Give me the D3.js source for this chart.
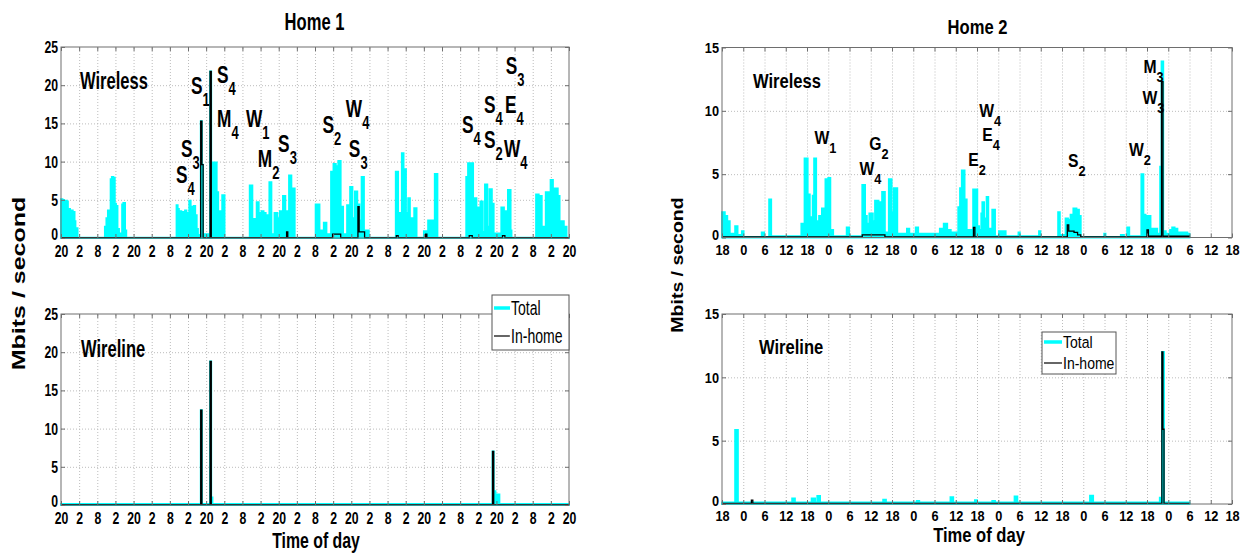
<!DOCTYPE html>
<html><head><meta charset="utf-8">
<script src="https://cdn.jsdelivr.net/npm/d3@7"></script>
<style>
body{margin:0;background:#fff}
svg{display:block}
text{font-family:"Liberation Sans",Arial,Helvetica,sans-serif;font-weight:bold;fill:#000}
</style>
</head><body>
<svg id="c" width="1244" height="554"></svg>
<script>
// ---------------- DATA ----------------
// Home 1: hours since start (7 days), tick labels every 6 h
const h1TickHours = d3.range(0, 169, 6);
const h1TickLabels = ["20","2","8","2","20","2","8","2","20","2","8","2","20","2","8","2","20","2","8","2","20","2","8","2","20","2","8","2","20"];
const h1YTicks = [0,5,10,15,20,25];
// [hour, Mbit/s] step series
const h1WirelessTotal = [[0,5.1],[0.5,5.0],[1.0,2.4],[1.3,4.9],[1.9,4.8],[2.3,2.0],[2.5,3.8],[3.0,2.6],[3.4,3.6],[3.9,3.4],[4.5,2.2],[4.8,1.3],[5.5,0.05],
[14.5,1.5],[15.0,2.6],[15.5,3.6],[16.0,3.4],[16.4,7.7],[16.8,8.0],[17.3,7.9],[17.8,4.5],[18.2,4.2],[18.7,1.2],[19.2,0.6],[20.2,4.4],[20.6,4.6],[21.2,1.0],[21.6,0.05],
[38.2,4.3],[38.6,3.8],[39.0,3.0],[39.4,3.5],[39.8,2.6],[40.2,3.4],[40.6,2.5],[41.0,3.6],[41.5,3.3],[42.0,2.6],[42.4,4.9],[42.9,4.1],[43.4,3.6],[43.9,4.2],[44.4,3.0],[44.9,1.2],[45.3,0.4],[46.2,15.3],[46.6,9.6],[47.0,0.5],[49.3,21.8],[49.7,0.6],[50.0,9.9],[50.5,3.5],[50.9,9.9],[51.5,6.0],[52.0,0.6],[52.4,3.5],[52.9,0.5],[53.3,5.6],[54.1,0.05],
[62.4,6.9],[63.3,2.5],[64.7,4.7],[65.4,3.3],[66.3,3.5],[67.0,3.3],[67.7,3.0],[68.3,2.8],[68.9,7.3],[69.6,0.5],[70.6,3.3],[71.6,2.6],[72.4,3.5],[73.4,5.5],[74.2,3.5],[75.4,8.2],[76.2,6.5],[77.3,0.05],
[84.2,4.4],[85.5,1.0],[86.9,2.0],[87.8,0.5],[89.3,8.7],[90.1,9.7],[90.9,9.4],[91.7,10.1],[92.5,4.1],[93.3,0.5],[94.6,4.3],[95.6,6.7],[96.4,2.6],[97.2,6.1],[98.0,4.4],[98.7,2.3],[99.4,8.0],[100.2,1.0],[101.8,0.05],
[110.7,8.7],[111.5,1.5],[112.1,3.3],[112.7,11.1],[113.3,9.0],[114.1,3.3],[114.8,5.2],[115.4,1.5],[116.0,2.6],[116.8,3.9],[117.6,0.05],
[120.0,0.9],[121.4,2.3],[123.0,2.1],[123.6,8.4],[124.5,0.05],
[134.0,8.0],[134.6,9.8],[136.3,4.0],[136.8,5.2],[137.4,4.0],[138.2,2.0],[138.7,4.8],[139.5,0.8],[140.2,7.0],[141.0,1.5],[141.7,6.4],[142.5,4.5],[143.1,0.6],[145.6,4.0],[146.5,2.5],[147.1,3.5],[147.8,6.3],[148.7,1.0],[149.0,0.05],
[157.1,5.7],[158.0,1.5],[158.5,5.5],[159.0,0.8],[159.4,1.5],[160.3,6.0],[161.3,5.5],[161.9,7.6],[162.7,2.5],[163.3,6.5],[164.3,5.5],[164.9,2.0],[165.5,2.2],[166.3,1.5],[167.2,0.05],[168,0.05]];
const h1WirelessInHome = [[0,0.05],[46.2,15.3],[46.6,9.6],[47.0,0.05],[49.3,21.8],[49.7,0.05],[74.6,0.8],[75.0,0.05],[89.8,0.5],[92.5,0.05],[98.2,4.1],[98.6,0.8],[100.4,0.05],[110.9,0.3],[111.5,0.05],[120.6,0.5],[121.0,0.05],[135.0,0.3],[136.0,0.05],[146.0,0.3],[146.8,0.05],[168,0.05]];
const h1WirelineTotal = [[0,0.15],[46.2,12.4],[46.6,0.15],[49.3,18.8],[49.7,1.0],[50.1,0.15],[142.7,7.0],[143.1,1.8],[143.7,1.4],[145.0,0.15],[168,0.15]];
const h1WirelineInHome = [[0,0.05],[46.2,12.4],[46.6,0.05],[49.3,18.8],[49.7,0.05],[142.7,7.0],[143.1,0.05],[168,0.05]];
// annotations: [letter, subscript, hour, Mbit/s]
const h1Annotations = [["S","4",38.0,7.2],["S","3",39.7,10.6],["S","1",43.0,18.85],["S","4",51.6,20.3],["M","4",51.6,14.5],["W","1",61.2,14.5],["M","2",65.1,9.3],["S","3",71.8,11.3],["S","2",86.5,13.7],["W","4",94.2,15.8],["S","3",95.2,10.6],["S","4",132.6,13.7],["S","4",139.9,16.4],["E","4",146.8,16.4],["S","2",139.9,11.8],["W","4",146.5,10.6],["S","3",147.1,21.5]];

// Home 2: hours since start (6 days axis), tick labels every 6 h
const h2TickHours = d3.range(0, 145, 6);
const h2TickLabels = ["18","0","6","12","18","0","6","12","18","0","6","12","18","0","6","12","18","0","6","12","18","0","6","12","18"];
const h2YTicks = [0,5,10,15];
const h2WirelessTotal = [[0,2.0],[0.8,1.7],[1.5,1.3],[2.2,0.3],[3.7,0.9],[4.4,0.2],[5.6,0.5],[6.1,0.05],[11.2,0.4],[11.9,0.05],[13.3,3.0],[13.9,0.1],[22.4,1.1],[23.3,6.25],[24.2,3.4],[24.8,1.6],[25.6,3.3],[26.0,6.25],[26.6,1.3],[27.4,1.7],[28.2,2.3],[29.2,4.6],[30.0,4.7],[30.6,0.6],[31.4,0.1],[35.2,0.8],[35.9,0.1],[39.6,4.15],[40.4,1.7],[40.9,1.1],[41.6,1.9],[42.6,1.3],[43.2,2.9],[44.2,2.8],[45.2,3.6],[46.0,0.4],[47.1,4.6],[47.9,2.0],[48.5,3.9],[49.5,0.3],[52.2,0.7],[52.9,0.3],[54.7,0.8],[55.4,0.3],[61.5,0.7],[62.6,1.1],[63.6,0.6],[64.6,0.4],[66.7,2.4],[67.2,3.9],[67.7,5.3],[68.5,3.0],[69.1,0.6],[70.9,3.8],[72.1,0.9],[72.6,0.6],[73.2,1.9],[73.5,2.8],[74.0,1.5],[74.7,3.2],[75.2,0.7],[75.9,0.3],[76.3,2.2],[77.1,0.1],[78.2,0.5],[80.1,0.1],[83.7,0.4],[84.1,0.1],[89.5,0.5],[89.9,0.05],[94.9,2.0],[95.4,0.2],[97.0,1.5],[97.7,1.4],[98.4,1.8],[99.2,2.3],[100.1,2.2],[100.8,1.7],[101.3,0.05],[107.9,0.3],[108.3,0.05],[112.6,0.2],[113.5,0.05],[114.4,0.8],[115.0,0.1],[118.4,5.0],[119.0,1.8],[119.6,0.7],[120.1,1.7],[121.0,0.7],[122.9,0.3],[123.7,5.6],[124.1,13.9],[124.6,0.5],[125.3,0.3],[126.5,0.6],[127.1,0.8],[127.8,0.7],[128.6,0.4],[131.4,0.3],[132,0.3]];
const h2WirelessInHome = [[0,0.05],[39.6,0.2],[46.0,0.05],[71.0,0.8],[71.4,0.05],[97.5,1.0],[97.9,0.5],[99.4,0.4],[100.4,0.2],[101.3,0.05],[120.0,0.6],[120.4,0.1],[124.1,12.3],[124.5,0.1],[132,0.05]];
const h2WirelineTotal = [[0,0.12],[3.7,5.85],[4.5,0.12],[19.8,0.45],[20.6,0.12],[25.3,0.45],[26.3,0.12],[26.9,0.63],[27.7,0.12],[45.5,0.35],[46.3,0.12],[55.0,0.25],[55.7,0.12],[64.5,0.55],[65.3,0.12],[71.4,0.3],[72.0,0.12],[76.3,0.25],[77.1,0.12],[82.6,0.6],[83.4,0.12],[103.9,0.65],[104.8,0.12],[123.6,0.5],[124.2,12.0],[124.8,0.12],[132,0.12]];
const h2WirelineInHome = [[0,0.05],[8.3,0.3],[8.7,0.05],[124.2,12.0],[124.5,5.9],[124.8,0.05],[132,0.05]];
const h2Annotations = [["W","1",26.1,7.4],["G","2",41.6,6.9],["W","4",38.8,4.9],["W","4",72.6,9.5],["E","4",73.5,7.6],["E","2",69.5,5.65],["S","2",97.7,5.6],["W","2",114.9,6.4],["M","3",119.0,13.0],["W","3",118.7,10.55]];

const legendLabels = ["Total","In-home"];

// ---------------- DRAW ----------------
const svg = d3.select("#c");
const CYAN = "#00ffff", FRAME = "#6e6e6e", GRID = "#bcbcbc";

function txt(g, s, x, y, size, sx, anchor) {
  return g.append("text").attr("transform", `translate(${x},${y}) scale(${sx},1)`)
    .attr("text-anchor", anchor || "start").style("font-size", size + "px").text(s);
}

function panel(o) {
  const g = svg.append("g");
  const x = d3.scaleLinear().domain(o.xDomain).range([o.left, o.right]);
  const y = d3.scaleLinear().domain([0, o.yMax]).range([o.bottom, o.top]);
  const H = o.bottom - o.top, W = o.right - o.left;
  // grid
  g.append("g").attr("transform", `translate(0,${o.bottom})`)
    .call(d3.axisBottom(x).tickValues(o.tickHours.slice(1, -1)).tickSize(-H).tickFormat(""))
    .call(s => { s.select(".domain").remove();
      s.selectAll("line").attr("stroke", GRID).attr("stroke-dasharray", "1,2"); });
  g.append("g").attr("transform", `translate(${o.left},0)`)
    .call(d3.axisLeft(y).tickValues(o.yTicks.slice(1, -1)).tickSize(-W).tickFormat(""))
    .call(s => { s.select(".domain").remove();
      s.selectAll("line").attr("stroke", GRID).attr("stroke-dasharray", "1,2"); });
  // total (cyan)
  const area = d3.area().x(d => x(d[0])).y0(y(0)).y1(d => y(d[1])).curve(d3.curveStepAfter);
  g.append("path").datum(o.total).attr("d", area)
    .attr("fill", CYAN).attr("stroke", CYAN).attr("stroke-width", 1.8);
  // in-home (black)
  const line = d3.line().x(d => x(d[0])).y(d => y(d[1])).curve(d3.curveStepAfter);
  g.append("path").datum(o.inhome).attr("d", line)
    .attr("fill", "none").attr("stroke", "#000").attr("stroke-width", 1.3);
  // frame
  g.append("rect").attr("x", o.left).attr("y", o.top).attr("width", W).attr("height", H)
    .attr("fill", "none").attr("stroke", FRAME).attr("stroke-width", 1);
  // axes
  const xa = g.append("g").attr("transform", `translate(0,${o.bottom})`)
    .call(d3.axisBottom(x).tickValues(o.tickHours).tickFormat((d, i) => o.tickLabels[i])
      .tickSizeInner(-4).tickSizeOuter(0).tickPadding(o.xPad));
  xa.select(".domain").remove();
  xa.selectAll("line").attr("stroke", FRAME);
  xa.selectAll("text").attr("transform", `scale(${o.sx},1)`).style("font-size", o.tickFont + "px")
    .attr("fill", "#000");
  const xt = g.append("g").attr("transform", `translate(0,${o.top})`)
    .call(d3.axisTop(x).tickValues(o.tickHours).tickFormat("").tickSizeInner(-4).tickSizeOuter(0));
  xt.select(".domain").remove(); xt.selectAll("line").attr("stroke", FRAME);
  const ya = g.append("g").attr("transform", `translate(${o.left},0)`)
    .call(d3.axisLeft(y).tickValues(o.yTicks).tickSizeInner(-4).tickSizeOuter(0).tickPadding(3 / o.sx));
  ya.select(".domain").remove();
  ya.selectAll("line").attr("stroke", FRAME);
  ya.selectAll("text").attr("transform", `scale(${o.sx},1)`).style("font-size", o.tickFont + "px")
    .attr("fill", "#000");
  // lift the "0" label a touch so it does not collide with the first time label
  ya.selectAll("text").filter(d => d === 0).attr("dy", "0.1em");
  const yr = g.append("g").attr("transform", `translate(${o.right},0)`)
    .call(d3.axisRight(y).tickValues(o.yTicks).tickFormat("").tickSizeInner(-4).tickSizeOuter(0));
  yr.select(".domain").remove(); yr.selectAll("line").attr("stroke", FRAME);
  // panel name
  txt(g, o.name, o.nameX, o.nameY, o.nameFont, o.sx);
  // annotations
  (o.annotations || []).forEach(a => {
    const t = g.append("text")
      .attr("transform", `translate(${x(a[2])},${y(a[3])}) scale(${o.sx},1)`)
      .style("font-size", o.annFont + "px");
    t.append("tspan").text(a[0]);
    t.append("tspan").attr("dy", o.subDy).style("font-size", o.subFont + "px").text(a[1]);
  });
  return {x, y, g};
}

function legend(l) {
  const g = svg.append("g");
  g.append("rect").attr("x", l.x).attr("y", l.y).attr("width", l.w).attr("height", l.h)
    .attr("fill", "#fff").attr("stroke", "#555").attr("stroke-width", 1);
  g.append("line").attr("x1", l.x + 2).attr("x2", l.x + l.lw).attr("y1", l.r1).attr("y2", l.r1)
    .attr("stroke", CYAN).attr("stroke-width", 3.5);
  g.append("line").attr("x1", l.x + 2).attr("x2", l.x + l.lw).attr("y1", l.r2).attr("y2", l.r2)
    .attr("stroke", "#000").attr("stroke-width", 1.2);
  txt(g, legendLabels[0], l.x + l.lw + 1, l.r1 + l.font * 0.36, l.font, l.sx).style("font-weight", "normal");
  txt(g, legendLabels[1], l.x + l.lw + 1, l.r2 + l.font * 0.36, l.font, l.sx).style("font-weight", "normal");
}

// ---- Home 1 ----
const sx1 = 0.72;
const h1Common = {xDomain: [0, 168], yMax: 25, left: 61, right: 569, tickHours: h1TickHours,
  tickLabels: h1TickLabels, yTicks: h1YTicks, sx: sx1, tickFont: 17, xPad: 7,
  nameFont: 23, annFont: 24, subFont: 18, subDy: 12};
panel(Object.assign({}, h1Common, {top: 47, bottom: 238, total: h1WirelessTotal, inhome: h1WirelessInHome,
  name: "Wireless", nameX: 80, nameY: 89, annotations: h1Annotations}));
panel(Object.assign({}, h1Common, {top: 314, bottom: 505, total: h1WirelineTotal, inhome: h1WirelineInHome,
  name: "Wireline", nameX: 81, nameY: 357}));
legend({x: 492, y: 295, w: 77, h: 55, r1: 308, r2: 336, lw: 18, font: 19.5, sx: sx1});
txt(svg, "Home 1", 314.5, 30, 23, sx1, "middle");
txt(svg, "Time of day", 316, 547.5, 22, sx1, "middle");
svg.append("text").attr("transform", `translate(25,283.5) scale(${sx1},1) rotate(-90)`)
  .attr("text-anchor", "middle").style("font-size", "25px").text("Mbits / second");

// ---- Home 2 ----
const sx2 = 0.85;
const h2Common = {xDomain: [0, 144], yMax: 15, left: 722, right: 1232, tickHours: h2TickHours,
  tickLabels: h2TickLabels, yTicks: h2YTicks, sx: sx2, tickFont: 15, xPad: 6.5,
  nameFont: 19.5, annFont: 18.5, subFont: 15, subDy: 9};
panel(Object.assign({}, h2Common, {top: 47.5, bottom: 237.5, total: h2WirelessTotal, inhome: h2WirelessInHome,
  name: "Wireless", nameX: 753, nameY: 88, annotations: h2Annotations}));
panel(Object.assign({}, h2Common, {top: 314, bottom: 504, total: h2WirelineTotal, inhome: h2WirelineInHome,
  name: "Wireline", nameX: 759, nameY: 354}));
legend({x: 1042, y: 332, w: 74, h: 42, r1: 342, r2: 363, lw: 20, font: 16.5, sx: sx2});
txt(svg, "Home 2", 977.5, 34, 19.5, sx2, "middle");
txt(svg, "Time of day", 979, 542, 19.5, sx2, "middle");
svg.append("text").attr("transform", `translate(683,265) scale(${sx2},1) rotate(-90)`)
  .attr("text-anchor", "middle").style("font-size", "19.5px").text("Mbits / second");
</script>
</body></html>
